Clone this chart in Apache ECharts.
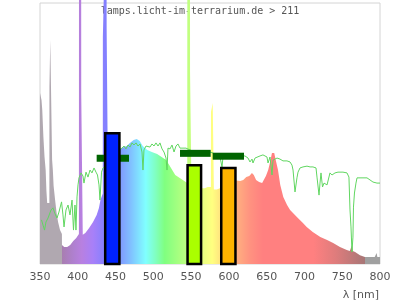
<!DOCTYPE html>
<html><head><meta charset="utf-8">
<script src="https://cdn.jsdelivr.net/npm/echarts@6/dist/echarts.min.js"></script>
<style>html,body{margin:0;padding:0;background:#fff}#c{width:400px;height:300px}</style>
</head><body><div id="c"></div>
<script>
// lamp spectrum [wavelength nm, relative intensity]
const lampSpectrum = [
[350,65.5],[351.5,65.5],[352,62.8],[353,59],[354.5,48.7],[356,41],[357.5,36],[358.5,28],[359.5,23.4],[362.4,23.4],
[362.5,67.8],[363.5,67.8],[363.6,85.8],[365.9,85.8],[366,40],[367,36],[368,30],[370,24.5],[372,19.5],[374,16],
[376.5,13],[379,11.5],[379.1,7.3],[382,6.5],[386,6.5],[390,7.3],[394,8.8],[398,10],[401.5,11.5],
[401.6,110],[404.5,110],[404.6,65],[406.5,65],[406.6,11.2],[410,11.9],[415,13.8],[420,16],[425,18.8],[428,21.5],
[430,24.5],[433.1,27],[433.2,87],[434.9,87],[435,110],[438.1,110],[438.2,90],[439.5,90],[439.6,44],[456,44],
[457,44.4],[461,44.8],[465,45.2],[469,46.4],[474,47.5],[478,47.9],[482,47.1],[486,45.2],[492,43.7],[498,42.9],
[505,42.1],[511,41],[517,39.8],[521,37.9],[525,36],[529,34.1],[533,33.3],[537,32.6],[541,31.8],[544.9,31],
[545,110],[548.5,110],[548.6,73.6],[550.3,73.6],[550.4,31],[556,30],[564,29],[568,29],[572,29.5],[576.2,29.5],
[576.3,58.2],[578.5,58.2],[578.6,61.7],[580,61.7],[580.1,28.5],[584,28.5],[588,29],[600,31],[610,32],
[611,32.6],[615,31.8],[619,32.2],[623,33.3],[627,33.7],[630.5,34.9],[633,34.1],[636,32.2],[640,31.4],[644,31],
[646.5,31.4],[649,33.7],[652,36],[654.5,39],[657,42.5],[660,42.5],[662,39.8],[665,36],[668,30.3],[672,25.7],
[677,22.6],[681,20.7],[690,18],[698,15.7],[703,14.2],[711,12.3],[721,10.3],[730,9.2],[738,8],[747,6.5],
[756,5.4],[760,5],[763,7.3],[764,5],[767,4.6],[773.5,3.4],[780,2.7],[787,2.7],[793,2.7],[795.5,4.2],
[796.5,2.7],[800,2.7]
];
// reference daylight spectrum
const sunSpectrum = [
[352,16.9],[354,14.9],[356,13],[357.9,16.1],[360.6,17.6],[364.6,20.7],[367.2,21.5],[369.9,19.2],[372.5,17.6],[375.1,19.9],
[378.5,23.8],[380.4,18.8],[381.8,14.2],[384.4,20.7],[387.1,22.6],[389.7,18.8],[392.4,24.5],[394.3,13],[396.3,22.6],[397.6,13],
[399,25.7],[400.3,30.3],[401.6,33],[404.3,34.9],[406.9,33.7],[408.2,31],[410.9,35.2],[413.5,33.3],[416.2,36],[418.8,34.9],
[421.5,36.8],[424.1,35.2],[426.1,34.1],[428.1,30.3],[429.4,24.5],[431.4,35.2],[433.4,36.8],[437.4,37.9],[442.6,39.8],[449.3,41.8],
[454.6,43.7],[458.5,44.4],[461.2,45.2],[463.8,44.1],[466.5,45.6],[469.1,44.8],[471.8,46.4],[474.4,45.6],[477.1,46.4],[479.7,45.2],
[482.4,46],[485,42.9],[486.3,36],[487.6,43.7],[490.3,45.2],[492.9,45.6],[495.6,44.8],[498.2,46],[500.9,45.2],[503.5,46.4],
[506.2,45.2],[508.8,46.4],[511.5,44.1],[514.1,42.9],[516.8,40.6],[518.1,36],[519.4,44.4],[522.1,44.1],[524.7,45.6],[527.4,42.9],
[530,45.2],[532.6,46],[535.3,44.4],[537.9,43.7],[543.2,44.4],[548.5,43.7],[555.1,42.9],[561.8,42.5],[568.4,42.9],[575,42.9],
[579,42.5],[584.3,41.4],[588.2,41],[590.9,37.2],[592.2,41],[598.8,41],[608.1,41],[617.4,41.4],[621.3,41.4],[625.3,40.6],
[627.9,39.1],[630.6,40.2],[631.9,38.7],[634.6,40.6],[637.2,41],[641.2,41.4],[645.1,41.8],[650.4,41],[651.8,38.7],[654.4,41],
[657.1,34.1],[658.4,39.8],[663.7,40.6],[667.6,40.2],[671.6,39.5],[676.9,39.5],[680.9,39.1],[683.5,37.9],[684.9,36],[687.5,27.6],
[690.1,33],[691.5,35.2],[694.1,36.8],[698.1,37.2],[703.4,37.5],[707.4,37.2],[711.3,37.2],[715.3,36.8],[716.6,33.3],[719.3,26.4],
[720.6,31],[721.9,34.9],[723.9,29.5],[725.9,31],[729.9,30.3],[731.8,31],[733.8,34.9],[736.5,34.1],[740.4,34.9],[744.4,35.2],
[751,35.2],[756.3,34.9],[758.9,33.3],[760.3,20.7],[761.6,14.2],[762.9,4.6],[764.2,10.3],[764.9,21.8],[766.2,27.2],[768.2,31],
[769.6,33],[782.8,33],[786.8,32.2],[790.7,31.4],[796,31],[800,31]
];
// band bars [from nm, to nm, value]
const bandBars = [[436.3,455.1,50.1],[545.3,563.2,37.8],[589.9,608.7,36.8]];
// range marks [from nm, to nm, value]
const rangeMarks = [[425,467.8,40.5],[535.3,575.9,42.4],[578.5,620,41.3]];
const titleText = 'lamps.licht-im-terrarium.de > 211';
const axisName = 'λ [nm]';

// styles
const bandColors = ['#0022ff', '#aaff00', '#ffb400'];
const colorAnchors = [
  [350,[176,168,176]],[378.9,[176,168,176]],[379,[168,126,176]],[396,[176,128,210]],[405,[184,128,224]],
  [420,[168,128,248]],[438,[128,128,255]],[455,[128,150,255]],[470,[128,192,255]],[490,[128,255,255]],
  [503,[128,255,192]],[515,[128,255,128]],[535,[170,255,128]],[550,[200,255,128]],[565,[232,255,128]],
  [578,[255,255,128]],[592,[255,220,128]],[610,[255,176,128]],[628,[255,146,128]],[645,[255,128,128]],
  [712,[255,128,128]],[742,[222,124,124]],[779.5,[168,118,118]],[780,[160,160,160]],[800,[160,160,160]]
];
const stops = colorAnchors.map(a => ({offset: (a[0]-350)/450, color: 'rgb(' + a[1].join(',') + ')'}));

const chart = echarts.init(document.getElementById('c'), null, {renderer: 'canvas'});
chart.setOption({
  animation: false,
  grid: {left: 40, right: 20, top: 3, bottom: 36, show: true, borderColor: '#d4d4d4', borderWidth: 1, backgroundColor: 'transparent'},
  xAxis: {
    type: 'value', min: 350, max: 800, interval: 50,
    axisLine: {show: false}, axisTick: {show: false}, splitLine: {show: false},
    axisLabel: {color: '#555', fontFamily: 'DejaVu Sans', fontSize: 11, margin: 8}
  },
  yAxis: {type: 'value', min: 0, max: 100, show: false, splitLine: {show: false}},
  graphic: [
    {type: 'text', x: 200, y: 11.5, style: {text: titleText, font: '10px "DejaVu Sans Mono"', fill: '#555', align: 'center', verticalAlign: 'middle'}},
    {type: 'text', x: 379, y: 295, style: {text: axisName, font: '11px "DejaVu Sans"', fill: '#555', align: 'right', verticalAlign: 'middle'}}
  ],
  series: [
    {
      type: 'line', data: lampSpectrum, showSymbol: false, clip: false, z: 1,
      lineStyle: {width: 0},
      areaStyle: {opacity: 1, color: new echarts.graphic.LinearGradient(0, 0, 1, 0, stops)}
    },
    {
      type: 'line', data: sunSpectrum, showSymbol: false, z: 2,
      lineStyle: {width: 1, color: '#60d660'}
    },
    {
      type: 'custom', z: 3, data: rangeMarks,
      renderItem: (params, api) => {
        const a = api.coord([api.value(0), api.value(2)]);
        const b = api.coord([api.value(1), api.value(2)]);
        return {type: 'rect', shape: {x: a[0], y: a[1] - 3.5, width: b[0] - a[0], height: 7}, style: {fill: '#006400'}};
      }
    },
    {
      type: 'custom', z: 4, data: bandBars,
      renderItem: (params, api) => {
        const a = api.coord([api.value(0), api.value(2)]);
        const b = api.coord([api.value(1), 0]);
        return {type: 'rect', shape: {x: a[0], y: a[1], width: b[0] - a[0], height: b[1] - a[1]},
          style: {fill: bandColors[params.dataIndex], stroke: '#000', lineWidth: 2.5}};
      }
    }
  ]
});
</script></body></html>
